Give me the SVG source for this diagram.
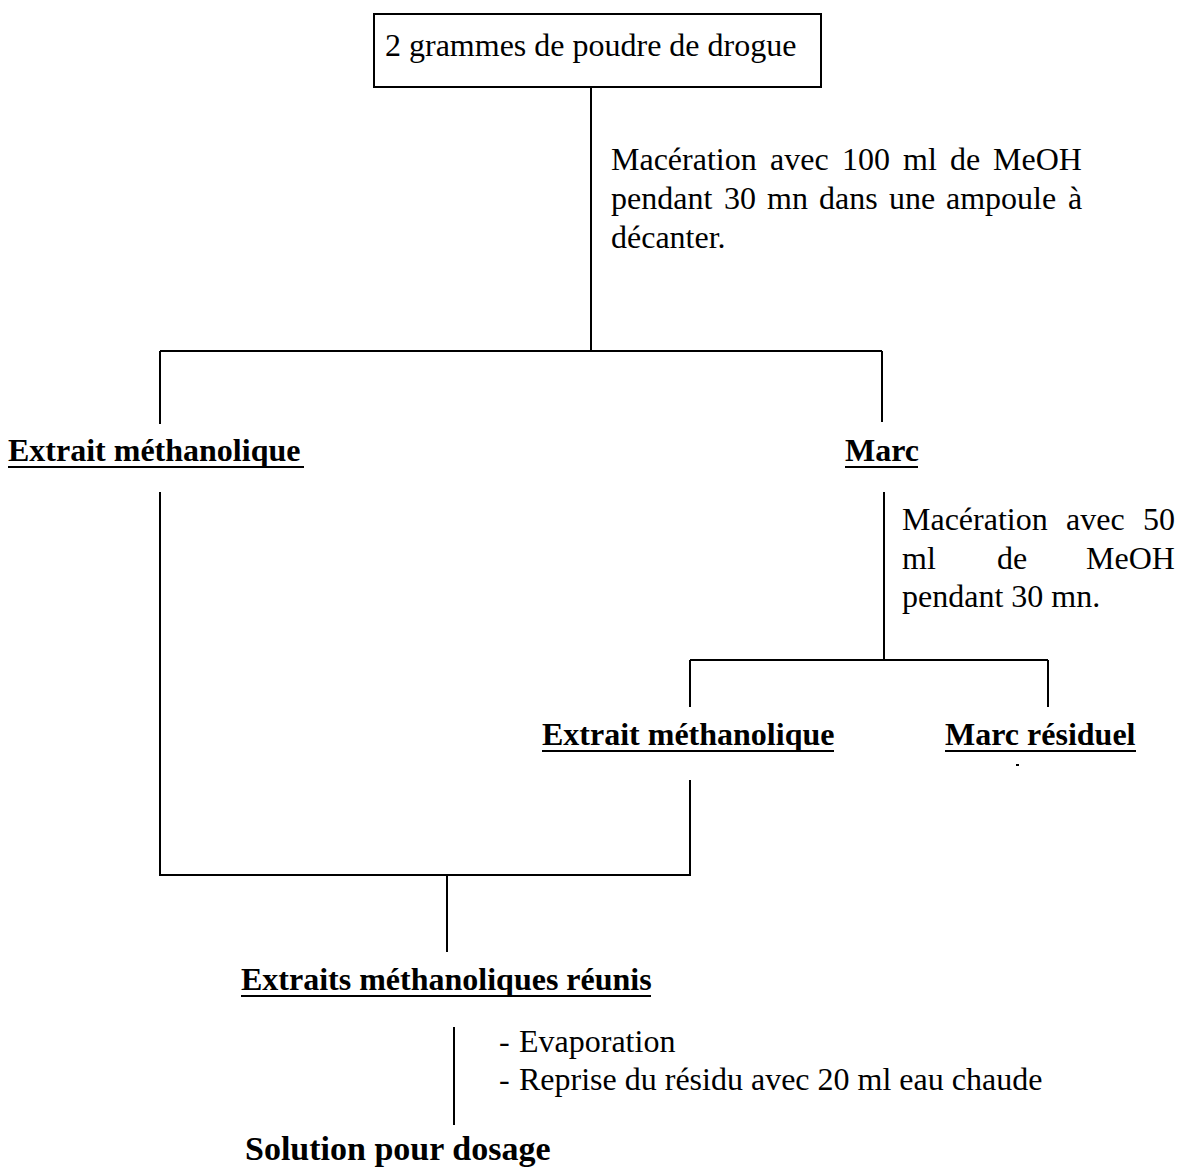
<svg xmlns="http://www.w3.org/2000/svg" width="1178" height="1169" viewBox="0 0 1178 1169">
<style>
.t{font-family:"Liberation Serif","Times New Roman",serif;font-size:32px;fill:#000}
.b{font-family:"Liberation Serif","Times New Roman",serif;font-size:32px;font-weight:bold;fill:#000}
.ln{stroke:#000;stroke-width:2;fill:none}
.ul{stroke:#000;stroke-width:2}
</style>
<rect width="1178" height="1169" fill="#fff"/>
<g id="connectors">
<path class="ln" d="M591 88V351M160 351H882M160 351V424M882 351V422"/>
<path class="ln" d="M160 492V875H690V780M884 492V660M690 660H1048M690 660V707M1048 660V707"/>
<path class="ln" d="M447 875V952M454 1027V1125"/>
</g>
<g id="n-start">
<rect x="374" y="14" width="447" height="73" fill="#fff" stroke="#000" stroke-width="2"/>
<text class="t" x="385" y="56">2 grammes de poudre de drogue</text>
</g>
<g id="lbl-maceration1">
<text class="t" y="170"><tspan x="611">Macération</tspan><tspan x="770">avec</tspan><tspan x="842">100</tspan><tspan x="903">ml</tspan><tspan x="950">de</tspan><tspan x="993">MeOH</tspan></text>
<text class="t" y="209"><tspan x="611">pendant</tspan><tspan x="724">30</tspan><tspan x="767">mn</tspan><tspan x="819">dans</tspan><tspan x="889">une</tspan><tspan x="946">ampoule</tspan><tspan x="1068">à</tspan></text>
<text class="t" x="611" y="248">décanter.</text>
</g>
<g id="n-extrait1">
<text class="b" x="8" y="461">Extrait méthanolique</text>
<line class="ul" x1="8" y1="467" x2="304" y2="467"/>
</g>
<g id="n-marc">
<text class="b" x="845" y="461">Marc</text>
<line class="ul" x1="845" y1="467" x2="918" y2="467"/>
</g>
<g id="lbl-maceration2">
<text class="t" y="530"><tspan x="902">Macération</tspan><tspan x="1066">avec</tspan><tspan x="1143">50</tspan></text>
<text class="t" y="569"><tspan x="902">ml</tspan><tspan x="997">de</tspan><tspan x="1086">MeOH</tspan></text>
<text class="t" x="902" y="607">pendant 30 mn.</text>
</g>
<g id="n-extrait2">
<text class="b" x="542" y="745">Extrait méthanolique</text>
<line class="ul" x1="542" y1="751" x2="834" y2="751"/>
</g>
<g id="n-marc-residuel">
<text class="b" x="945" y="745">Marc résiduel</text>
<line class="ul" x1="945" y1="751" x2="1136" y2="751"/>
<rect x="1016" y="764" width="3" height="2" fill="#000"/>
</g>
<g id="n-reunis">
<text class="b" x="241" y="990">Extraits méthanoliques réunis</text>
<line class="ul" x1="241" y1="996" x2="651" y2="996"/>
</g>
<g id="lbl-steps">
<text class="t" x="499" y="1052">-</text>
<text class="t" x="519" y="1052">Evaporation</text>
<text class="t" x="499" y="1090">-</text>
<text class="t" x="519" y="1090">Reprise du résidu avec 20 ml eau chaude</text>
</g>
<g id="n-solution">
<text class="b" x="245" y="1160" style="font-size:34px">Solution pour dosage</text>
</g>
</svg>
